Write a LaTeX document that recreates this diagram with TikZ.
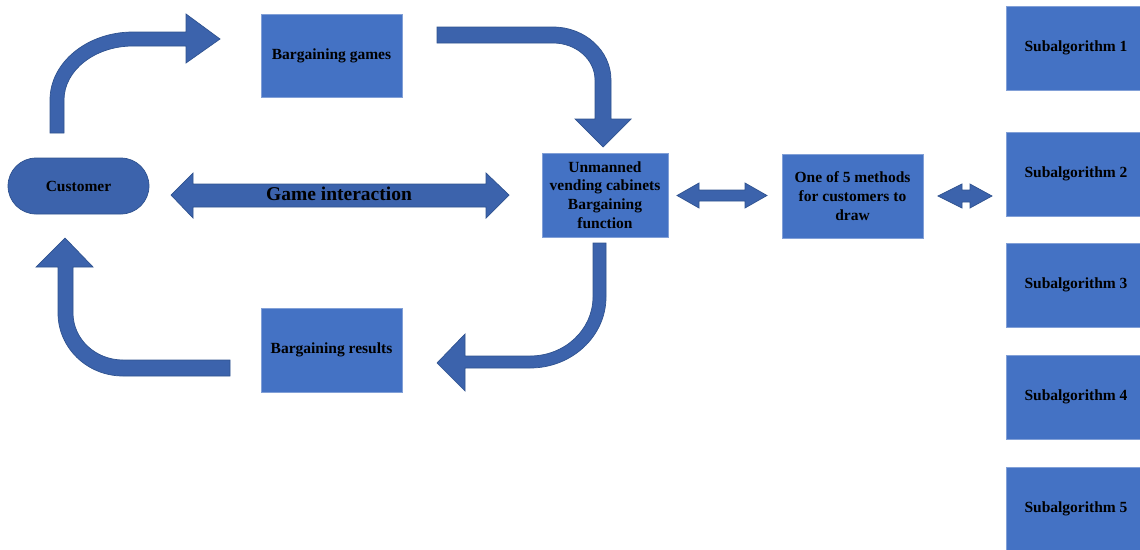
\documentclass[tikz,border=0pt]{standalone}
\usepackage{fontspec}
\setmainfont{Liberation Serif}
\definecolor{boxfill}{RGB}{68,114,196}
\definecolor{boxline}{RGB}{130,160,215}
\definecolor{arrfill}{RGB}{60,99,172}
\definecolor{arrline}{RGB}{47,82,143}
\begin{document}
\begin{tikzpicture}[x=1pt,y=-1pt,
  box/.style={rectangle, fill=boxfill, draw=boxline, line width=0.6pt,
    minimum width=141pt, minimum height=84pt, inner sep=2pt, align=center,
    font=\bfseries\fontsize{15.5}{18.8}\selectfont, text=black},
  blk/.style={fill=arrfill, draw=arrline, line width=0.7pt, line join=miter}]
\useasboundingbox (0,0) rectangle (1140,549);
\clip (0,0) rectangle (1140,549);

% boxes
\node[box, minimum height=83pt] (games) at (331.5,55.5) {Bargaining games};
\node[box] (results) at (331.5,350) {Bargaining results};
\node[box, minimum width=126pt] (cabinet) at (605,195) {Unmanned\\vending cabinets\\Bargaining\\function};
\node[box] (methods) at (852.5,196) {One of 5 methods\\for customers to\\draw};
\foreach \i/\yy in {1/48,2/174,3/285,4/397,5/509}
  \node[box, minimum width=140pt] (sub\i) at (1076,\yy) {Subalgorithm \i};
\node[rectangle, rounded corners=28pt, fill=arrfill, draw=arrline, line width=0.7pt,
  minimum width=141pt, minimum height=56pt,
  font=\bfseries\fontsize{15.5}{18.8}\selectfont, text=black] (customer) at (78.5,186) {Customer};

% bent arrow: customer -> bargaining games
\path[blk] (50,133) -- (50,100) .. controls (50,62.4) and (87.2,32) .. (133,32)
  -- (186,32) -- (186,14) -- (220,39) -- (186,63) -- (186,46) -- (133,46)
  .. controls (95,46) and (64,70.2) .. (64,100) -- (64,133) -- cycle;

% bent arrow: bargaining games -> cabinet
\path[blk] (437,27) -- (553,27) .. controls (585,27) and (611,50.7) .. (611,80)
  -- (611,119) -- (631,119) -- (603,147) -- (575,119) -- (595,119) -- (595,80)
  .. controls (595,59.6) and (576.2,43) .. (553,43) -- (437,43) -- cycle;

% bent arrow: cabinet -> bargaining results
\path[blk] (593,243) -- (606,243) -- (606,297) .. controls (606,336.2) and (572,368) .. (530,368)
  -- (465,368) -- (465,391) -- (437,363) -- (465,334) -- (465,356) -- (530,356)
  .. controls (564.8,356) and (593,329.6) .. (593,297) -- cycle;

% bent arrow: bargaining results -> customer
\path[blk] (230,360) -- (230,376) -- (123,376) .. controls (87.1,376) and (58,347.8) .. (58,313)
  -- (58,267) -- (36,267) -- (65,238) -- (93,267) -- (73,267) -- (73,313)
  .. controls (73,339) and (95.4,360) .. (123,360) -- cycle;

% game interaction double arrow
\path[blk] (171,195) -- (193,173) -- (193,184) -- (486,184) -- (486,173) -- (509,195)
  -- (486,218) -- (486,207) -- (193,207) -- (193,218) -- cycle;
\node[font=\bfseries\fontsize{19.5}{23}\selectfont, text=black] (gi) at (339,194) {Game interaction};

% cabinet <-> methods
\path[blk] (677,195.5) -- (699,183) -- (699,190) -- (745,190) -- (745,183) -- (767,195.5)
  -- (745,208) -- (745,201) -- (699,201) -- (699,208) -- cycle;

% methods <-> subalgorithm 2
\path[blk] (938,196) -- (962,184) -- (962,190) -- (970,190) -- (970,184) -- (992,196)
  -- (970,208) -- (970,202) -- (962,202) -- (962,208) -- cycle;
\end{tikzpicture}
\end{document}
